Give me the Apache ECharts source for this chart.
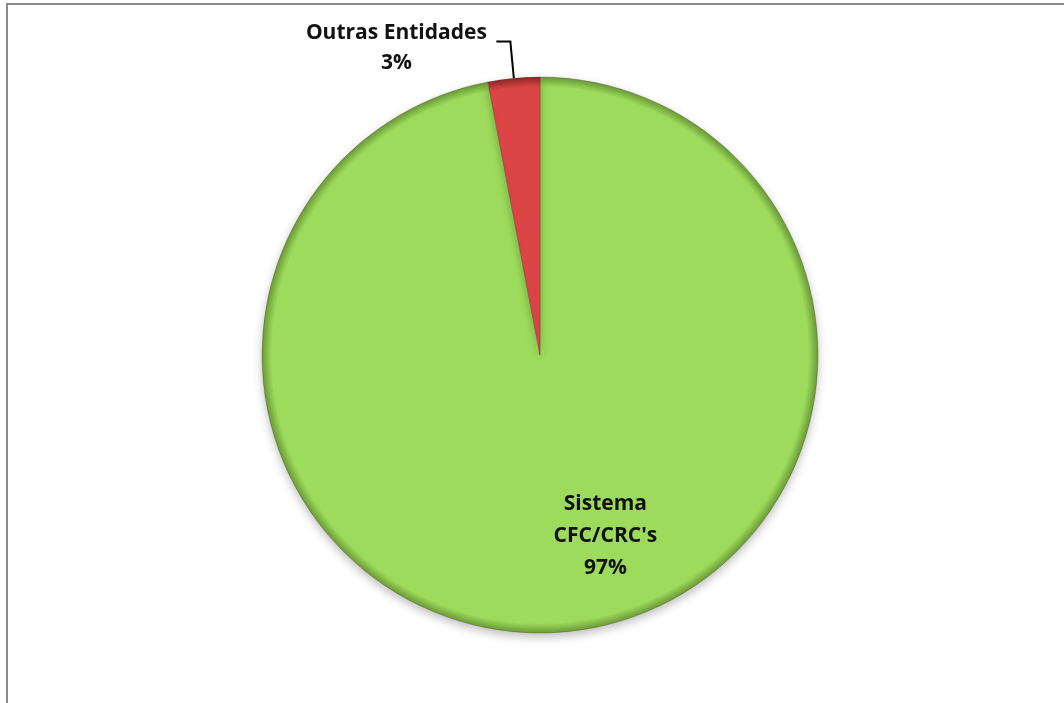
<!DOCTYPE html>
<html>
<head>
<meta charset="utf-8">
<script src="https://cdn.jsdelivr.net/npm/echarts@6/dist/echarts.min.js"></script>
<style>
html,body{margin:0;padding:0;background:#fff;}
#chart{width:1064px;height:703px;}
</style>
</head>
<body>
<div id="chart"></div>
<script>
const categories = ["Sistema\nCFC/CRC's", "Outras Entidades"];
const values = [97, 3];
const colors = ['#9ddb5c', '#dc4545'];
const edgeColors = ['#6a9a36', '#8e2626'];

const CX = 540, CY = 355, R = 278;
const chart = echarts.init(document.getElementById('chart'));
const font = '"Open Sans", "DejaVu Sans", sans-serif';

const data = categories.map((name, i) => {
  const item = {
    name: name,
    value: values[i],
    itemStyle: {
      color: {
        type: 'radial', x: CX, y: CY, r: R, global: true,
        colorStops: [
          {offset: 0, color: colors[i]},
          {offset: 0.965, color: colors[i]},
          {offset: 1, color: edgeColors[i]}
        ]
      }
    }
  };
  if (i === 0) {
    item.label = {position: 'inside', offset: [52, 40]};
  } else {
    item.label = {
      position: 'outside',
      formatter: (p) => '{a|' + p.name + '}\n{a|' + p.percent + '%}',
      padding: [14, 0, 0, 0],
      rich: {a: {width: 190, align: 'center', fontFamily: font, fontWeight: 'bold', fontSize: 21, lineHeight: 30, color: '#111'}}
    };
    item.labelLine = {show: true, length: 37, length2: 14, lineStyle: {color: '#000', width: 2}};
  }
  return item;
});

chart.setOption({
  backgroundColor: '#ffffff',
  animation: false,
  graphic: [{
    type: 'rect',
    shape: {x: 7, y: 4, width: 3000, height: 3000},
    style: {fill: 'none', stroke: '#8a8a8a', lineWidth: 2},
    silent: true
  }],
  series: [{
    type: 'pie',
    center: [CX, CY],
    radius: R,
    startAngle: 90,
    clockwise: true,
    percentPrecision: 0,
    avoidLabelOverlap: false,
    itemStyle: {
      borderColor: 'rgba(60,40,20,0.25)',
      borderWidth: 1,
      shadowBlur: 10,
      shadowOffsetY: 4,
      shadowColor: 'rgba(0,0,0,0.25)'
    },
    label: {
      show: true,
      formatter: '{b}\n{d}%',
      fontFamily: font,
      fontWeight: 'bold',
      fontSize: 21,
      lineHeight: 32,
      color: '#111',
      align: 'center'
    },
    emphasis: {disabled: true},
    data: data
  }]
});
</script>
</body>
</html>
